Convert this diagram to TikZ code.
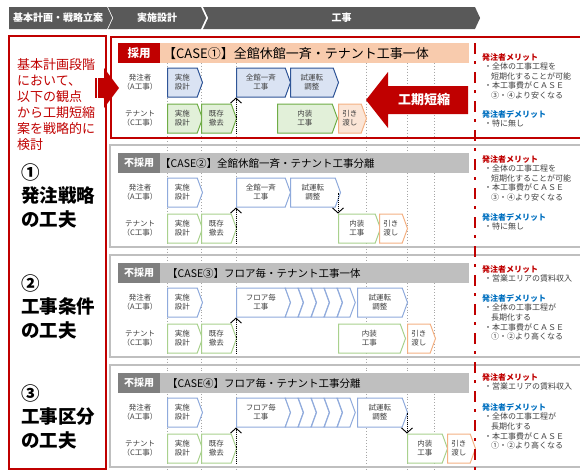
\documentclass[tikz,border=0pt]{standalone}
\usepackage{fontspec}
\setmainfont{Noto Sans CJK JP}
\usetikzlibrary{arrows.meta,shapes.symbols,positioning}
\definecolor{hdgray}{HTML}{595959}
\definecolor{kred}{HTML}{C00000}
\definecolor{peach}{HTML}{F8CBAD}
\definecolor{bargray}{HTML}{BFBFBF}
\definecolor{taggray}{HTML}{7F7F7F}
\definecolor{dkblue}{HTML}{2F5597}
\definecolor{ltblue}{HTML}{DAE3F3}
\definecolor{pablue}{HTML}{8FAADC}
\definecolor{dkgreen}{HTML}{70AD47}
\definecolor{ltgreen}{HTML}{E2F0D9}
\definecolor{pagreen}{HTML}{A9D18E}
\definecolor{orng}{HTML}{F4B183}
\definecolor{ltorng}{HTML}{FBE5D6}
\definecolor{txtgray}{HTML}{404040}
\definecolor{mblue}{HTML}{0070C0}
\def\fsz#1#2{\fontsize{#1}{#2}\selectfont}

\tikzset{
  hdr/.style={signal, signal to=east, signal pointer angle=130, fill=hdgray, text=white,
    font=\bfseries\fsz{10}{12}, minimum height=22, inner sep=0pt, anchor=west},
  chev/.style={signal, signal to=east, signal pointer angle=140, line width=1pt,
    minimum height=29, inner sep=0pt, anchor=west, align=center, text=txtgray,
    font=\fsz{7.5}{9}},
  aone/.style={chev, draw=dkblue, fill=ltblue},
  cone/.style={chev, draw=dkgreen, fill=ltgreen},
  hone/.style={chev, draw=orng, fill=ltorng},
  aoth/.style={chev, draw=pablue, fill=white},
  coth/.style={chev, draw=pagreen, fill=white},
  hoth/.style={chev, draw=orng, fill=white},
  segA/.style={aoth, signal from=west, minimum width=18},
  tagbox/.style={anchor=north west, minimum width=42, minimum height=20, inner sep=0pt,
    text=white, font=\bfseries\fsz{10}{12}},
  titlebar/.style={anchor=north west, minimum height=20, inner ysep=0pt, align=left,
    font=\fsz{10.5}{12}},
  rowlbl/.style={align=center, text=txtgray, font=\fsz{7.5}{9}},
  lefttxt/.style={anchor=north west, align=left, inner sep=0pt},
  notetxt/.style={anchor=north west, align=left, inner sep=0pt, text=txtgray, font=\fsz{8}{9.6}},
  gridln/.style={black!35, dotted, line width=0.9pt},
  dotarr/.style={densely dotted, line width=0.9pt, -{Straight Barb[length=5pt,width=11pt]}},
  grayframe/.style={bargray, line width=2.5pt},
}

\begin{document}
\begin{tikzpicture}[x=1pt,y=-1pt]
\useasboundingbox (0,0) rectangle (580,474);
\fill[white] (0,0) rectangle (580,474);

%%%%% header %%%%%
\node[hdr, minimum width=103] (h1) at (9,18) {基本計画・戦略立案};
\node[hdr, signal from=west, minimum width=98] (h2) at (113,18) {実施設計};
\node[hdr, signal from=west, minimum width=277] (h3) at (208,18) {工事};

%%%%% left panel %%%%%
\draw[kred, line width=2pt] (9,36) rectangle (106,469);
\node[lefttxt, text=kred, font=\fsz{13}{16}] (intro) at (17,58.5)
  {基本計画段階\\において、\\以下の観点\\から工期短縮\\案を戦略的に\\検討};
\node[lefttxt, font=\bfseries\fsz{18.5}{23.5}] (pt1) at (21,163) {①\\発注戦略\\の工夫};
\node[lefttxt, font=\bfseries\fsz{18.5}{23.5}] (pt2) at (21,274) {②\\工事条件\\の工夫};
\node[lefttxt, font=\bfseries\fsz{18.5}{23.5}] (pt3) at (21,384) {③\\工事区分\\の工夫};
\fill[kred] (95,78) rectangle (96.8,98);
\fill[kred] (98.3,78) rectangle (103,98);
\fill[kred] (103,78) -- (104,78) -- (104,68) -- (119,88) -- (104,108) -- (104,98) -- (103,98) -- cycle;

%%%%% gridlines %%%%%
\foreach \x in {167,201,236,366,407,434}
  \draw[gridln] (\x,63) -- (\x,470);

%%%%% frames %%%%%
\draw[kred, line width=2.2pt] (582,37) -- (111,37) -- (111,138) -- (582,138);
\foreach \b in {153,263,373}
  \draw[grayframe] (582,\b-8) -- (110,\b-8) -- (110,\b+94) -- (582,\b+94);

%%%%% titles %%%%%
\node[tagbox, fill=kred, font=\bfseries\fsz{11.5}{13}] (tag1) at (118,43) {採用};
\node[titlebar, fill=peach, inner xsep=3, text width=303, font=\fsz{13}{15}] (bar1) at (160,43) {【CASE①】全館休館一斉・テナント工事一体};
\node[tagbox, fill=taggray] (tag2) at (118,153) {不採用};
\node[titlebar, fill=bargray, inner xsep=0, text width=309] (bar2) at (160,153) {【CASE②】全館休館一斉・テナント工事分離};
\node[tagbox, fill=taggray] (tag3) at (118,263) {不採用};
\node[titlebar, fill=bargray, inner xsep=7, text width=295] (bar3) at (160,263) {【CASE③】フロア毎・テナント工事一体};
\node[tagbox, fill=taggray] (tag4) at (118,373) {不採用};
\node[titlebar, fill=bargray, inner xsep=7, text width=295] (bar4) at (160,373) {【CASE④】フロア毎・テナント工事分離};

\foreach \b/\n in {43/1,153/2,263/3,373/4}{
  \node[rowlbl] (own\n) at (140,\b+39.5) {発注者\\（A工事）};
  \node[rowlbl] (ten\n) at (140,\b+75.5) {テナント\\（C工事）};
}

%%%%% case 1 %%%%%
\node[aone, minimum width=35] (s1a1) at (167,82.5) {実施\\設計};
\node[aone, minimum width=54] (s1a2) at (236,82.5) {全館一斉\\工事};
\node[aone, minimum width=48] (s1a3) at (290,82.5) {試運転\\調整};
\node[cone, minimum width=35] (s1c1) at (167,118.5) {実施\\設計};
\node[cone, minimum width=35] (s1c2) at (201,118.5) {既存\\撤去};
\node[cone, minimum width=60] (s1c3) at (277,118.5) {内装\\工事};
\node[hone, minimum width=28] (s1c4) at (338,118.5) {引き\\渡し};
\draw[dotarr] (s1a2.west |- s1c2.south) -- (s1a2.west |- s1a2.south);

\fill[kred] (468,86) -- (388,86) -- (388,72) -- (366,100) -- (388,128) -- (388,114) -- (468,114) -- cycle;
\node[text=white, font=\bfseries\fsz{13}{15}] (short) at (424,100) {工期短縮};

%%%%% case 2 %%%%%
\node[aoth, minimum width=35] (s2a1) at (167,192.5) {実施\\設計};
\node[aoth, minimum width=54] (s2a2) at (236,192.5) {全館一斉\\工事};
\node[aoth, minimum width=50] (s2a3) at (290,192.5) {試運転\\調整};
\node[coth, minimum width=35] (s2c1) at (167,228.5) {実施\\設計};
\node[coth, minimum width=35] (s2c2) at (201,228.5) {既存\\撤去};
\node[coth, minimum width=42] (s2c3) at (338,228.5) {内装\\工事};
\node[hoth, minimum width=28] (s2c4) at (379,228.5) {引き\\渡し};
\draw[dotarr] (s2a2.west |- s2c2.south) -- (s2a2.west |- s2a2.south);
\draw[dotarr] (s2c3.west |- s2a3.east) -- (s2c3.west |- s2c3.north);

%%%%% case 3 %%%%%
\node[aoth, minimum width=35] (s3a1) at (167,302.5) {実施\\設計};
\node[aoth, minimum width=54] (s3a2) at (236,302.5) {フロア毎\\工事};
\foreach \i in {0,...,4}
  \node[segA] (s3f\i) at (290+13*\i,302.5) {};
\node[aoth, minimum width=50] (s3a3) at (357,302.5) {試運転\\調整};
\node[coth, minimum width=35] (s3c1) at (167,338.5) {実施\\設計};
\node[coth, minimum width=35] (s3c2) at (201,338.5) {既存\\撤去};
\node[coth, minimum width=67] (s3c3) at (338,338.5) {内装\\工事};
\node[hoth, minimum width=28] (s3c4) at (407,338.5) {引き\\渡し};
\draw[dotarr] (s3a2.west |- s3c2.south) -- (s3a2.west |- s3a2.south);

%%%%% case 4 %%%%%
\node[aoth, minimum width=35] (s4a1) at (167,412.5) {実施\\設計};
\node[aoth, minimum width=54] (s4a2) at (236,412.5) {フロア毎\\工事};
\foreach \i in {0,...,4}
  \node[segA] (s4f\i) at (290+13*\i,412.5) {};
\node[aoth, minimum width=50] (s4a3) at (357,412.5) {試運転\\調整};
\node[coth, minimum width=35] (s4c1) at (167,448.5) {実施\\設計};
\node[coth, minimum width=35] (s4c2) at (201,448.5) {既存\\撤去};
\node[coth, minimum width=40] (s4c3) at (407,448.5) {内装\\工事};
\node[hoth, minimum width=28] (s4c4) at (447,448.5) {引き\\渡し};
\draw[dotarr] (s4a2.west |- s4c2.south) -- (s4a2.west |- s4a2.south);
\draw[dotarr] (s4c3.west |- s4a3.east) -- (s4c3.west |- s4c3.north);

%%%%% merits %%%%%
\draw[kred, line width=2.5pt, dash pattern=on 11pt off 7pt on 2.5pt off 8.5pt] (475,43) -- (475,470);

\node[notetxt] (m1) at (482,53) {\textcolor{kred}{\bfseries 発注者メリット}\\
  \hspace*{2pt}・全体の工事工程を\\\hspace*{9pt}短期化することが可能\\
  \hspace*{2pt}・本工事費がＣＡＳＥ\\\hspace*{9pt}③・④より安くなる};
\node[notetxt] (d1) at (482,110) {\textcolor{mblue}{\bfseries 発注者デメリット}\\\hspace*{2pt}・特に無し};
\node[notetxt] (m2) at (482,155) {\textcolor{kred}{\bfseries 発注者メリット}\\
  \hspace*{2pt}・全体の工事工程を\\\hspace*{9pt}短期化することが可能\\
  \hspace*{2pt}・本工事費がＣＡＳＥ\\\hspace*{9pt}③・④より安くなる};
\node[notetxt] (d2) at (482,213) {\textcolor{mblue}{\bfseries 発注者デメリット}\\\hspace*{2pt}・特に無し};
\node[notetxt] (m3) at (482,265) {\textcolor{kred}{\bfseries 発注者メリット}\\\hspace*{2pt}・営業エリアの賃料収入};
\node[notetxt] (d3) at (482,294) {\textcolor{mblue}{\bfseries 発注者デメリット}\\
  \hspace*{2pt}・全体の工事工程が\\\hspace*{9pt}長期化する\\
  \hspace*{2pt}・本工事費がＣＡＳＥ\\\hspace*{9pt}①・②より高くなる};
\node[notetxt] (m4) at (482,373) {\textcolor{kred}{\bfseries 発注者メリット}\\\hspace*{2pt}・営業エリアの賃料収入};
\node[notetxt] (d4) at (482,403) {\textcolor{mblue}{\bfseries 発注者デメリット}\\
  \hspace*{2pt}・全体の工事工程が\\\hspace*{9pt}長期化する\\
  \hspace*{2pt}・本工事費がＣＡＳＥ\\\hspace*{9pt}①・②より高くなる};
\end{tikzpicture}
\end{document}
